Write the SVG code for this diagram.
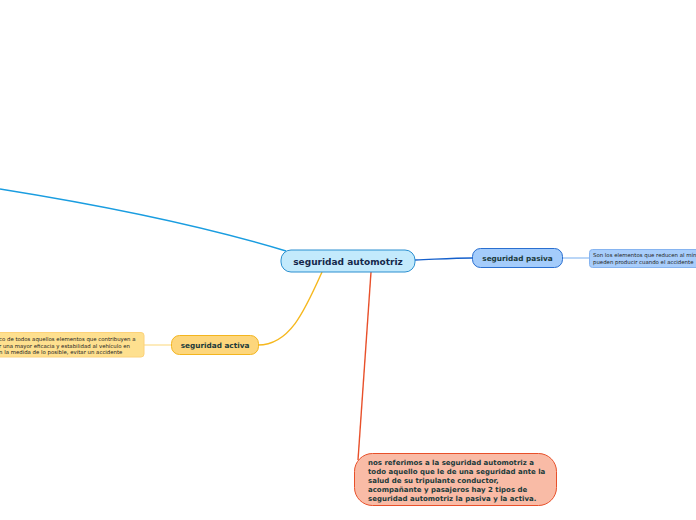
<svg xmlns="http://www.w3.org/2000/svg" width="696" height="520" viewBox="0 0 696 520">
<style>
.t{font-family:Verdana,"DejaVu Sans",sans-serif;font-weight:bold;fill:#1b3a3a}
.s{font-family:Verdana,"DejaVu Sans",sans-serif;fill:#222;font-size:5.4px}
.c{fill:none;stroke-width:1.4}
</style>
<rect width="696" height="520" fill="#fff"/>
<g id="connectors">
<path class="c" d="M286,251 C200,225 100,205 0,189" stroke="#1a9de0"/>
<path class="c" d="M415,260 C440,259 455,258 472,258" stroke="#1560cc"/>
<path class="c" d="M563,258 L589,258" stroke="#9cc4f4" stroke-width="1"/>
<path class="c" d="M322,272 C305,310 290,345 258,345" stroke="#f6b81e"/>
<path class="c" d="M171,345 L144,345" stroke="#fde3a0" stroke-width="1"/>
<path class="c" d="M371,272 C366,340 362,400 358,460" stroke="#e8502a"/>
</g>
<g id="central">
<rect x="281" y="250" width="134" height="22" rx="10" fill="#c3eafc" stroke="#2a8fd0" stroke-width="1"/>
<text class="t" x="348" y="265" font-size="9" text-anchor="middle" style="fill:#15284a">seguridad automotriz</text>
</g>
<g id="pasiva">
<rect x="472.5" y="248.5" width="90" height="19" rx="8" fill="#a4ccfb" stroke="#2a6fd0" stroke-width="1"/>
<text class="t" x="517.5" y="261" font-size="7.3" text-anchor="middle">seguridad pasiva</text>
</g>
<g id="pasiva-desc">
<rect x="589.5" y="249.5" width="120" height="18" rx="3" fill="#a8cdfb" stroke="#86b4f0" stroke-width="1"/>
<text class="s" x="593" y="257">Son los elementos que reducen al mínimo</text>
<text class="s" x="593" y="264">pueden producir cuando el accidente</text>
</g>
<g id="activa">
<rect x="171.5" y="335.5" width="87" height="19" rx="8" fill="#fdd67c" stroke="#f3b51f" stroke-width="1"/>
<text class="t" x="215" y="348" font-size="7.3" text-anchor="middle">seguridad activa</text>
</g>
<g id="activa-desc">
<rect x="-10" y="332.5" width="154" height="24.5" rx="3" fill="#fee08f" stroke="#fcd27a" stroke-width="1"/>
<text class="s" x="-1" y="341">co de todos aquellos elementos que contribuyen a</text>
<text class="s" x="-1" y="347.5">r una mayor eficacia y estabilidad al vehículo en</text>
<text class="s" x="-1" y="354">n la medida de lo posible, evitar un accidente</text>
</g>
<g id="definicion">
<rect x="354.5" y="453.5" width="202" height="52" rx="18" fill="#f9bba6" stroke="#e8502a" stroke-width="1"/>
<text class="t" font-size="7">
<tspan x="368" y="465">nos referimos a la seguridad automotriz a</tspan>
<tspan x="368" y="474">todo aquello que le de una seguridad ante la</tspan>
<tspan x="368" y="483">salud de su tripulante conductor,</tspan>
<tspan x="368" y="492">acompañante y pasajeros hay 2 tipos de</tspan>
<tspan x="368" y="501">seguridad automotriz la pasiva y la activa.</tspan>
</text>
</g>
</svg>
